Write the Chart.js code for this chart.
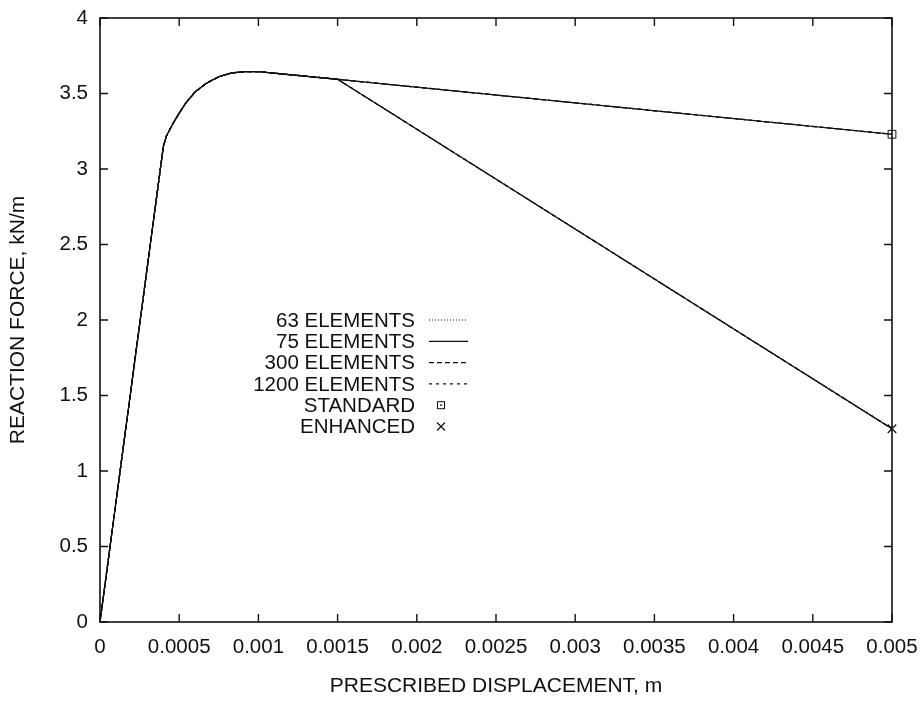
<!DOCTYPE html>
<html>
<head>
<meta charset="utf-8">
<script src="https://cdn.jsdelivr.net/npm/chart.js@4"></script>
<style>
  body { margin: 0; background: #fff; }
  #wrap { width: 922px; height: 701px; }
</style>
</head>
<body>
<div id="wrap"><canvas id="myChart" width="922" height="701"></canvas></div>
<script>
// data
const displacement = [0, 0.0004, 0.00042, 0.00046, 0.0005, 0.00054, 0.0006, 0.00067, 0.00075, 0.00083, 0.00092, 0.001, 0.0015, 0.005];
const standardForce = [0, 3.15, 3.22, 3.30, 3.37, 3.435, 3.51, 3.567, 3.611, 3.636, 3.645, 3.645, 3.594, 3.23];
const enhancedForce = [0, 3.15, 3.22, 3.30, 3.37, 3.435, 3.51, 3.567, 3.611, 3.636, 3.645, 3.645, 3.594, 1.28];
const meshLabels = ["63 ELEMENTS", "75 ELEMENTS", "300 ELEMENTS", "1200 ELEMENTS"];
const markerLabels = ["STANDARD", "ENHANCED"];
const xTicks = [0, 0.0005, 0.001, 0.0015, 0.002, 0.0025, 0.003, 0.0035, 0.004, 0.0045, 0.005];
const yTicks = [0, 0.5, 1, 1.5, 2, 2.5, 3, 3.5, 4];

const INK = "#111";
const FONT = "Liberation Sans, Arial, Helvetica, sans-serif";
const meshDash = [[1, 2], [], [5, 3], [3, 4]];

const toPoints = (ys) => displacement.map((x, i) => ({ x: x, y: ys[i] }));

const datasets = [];
meshLabels.forEach((label, i) => {
    [standardForce, enhancedForce].forEach((ys) => {
        datasets.push({
            label: label,
            data: toPoints(ys),
            borderColor: INK,
            borderWidth: 1.2,
            borderDash: meshDash[i],
            pointRadius: 0,
            tension: 0,
            fill: false
        });
    });
});
// end markers
datasets.push({
    label: markerLabels[0],
    data: [{ x: displacement[displacement.length - 1], y: standardForce[standardForce.length - 1] }],
    showLine: false,
    pointStyle: "rect",
    pointRadius: 5.5,
    borderColor: INK,
    borderWidth: 1,
    backgroundColor: "rgba(0,0,0,0)",
    clip: false
});
datasets.push({
    label: markerLabels[1],
    data: [{ x: displacement[displacement.length - 1], y: enhancedForce[enhancedForce.length - 1] }],
    showLine: false,
    pointStyle: "crossRot",
    pointRadius: 6,
    borderColor: INK,
    borderWidth: 1.2,
    clip: false
});

// box round the plot, with inward ticks on all four sides
const framePlugin = {
    id: "frame",
    afterDatasetsDraw(chart) {
        const { ctx, chartArea: a, scales } = chart;
        ctx.save();
        ctx.strokeStyle = INK;
        ctx.lineWidth = 1.6;
        ctx.strokeRect(a.left, a.top, a.right - a.left, a.bottom - a.top);
        ctx.lineWidth = 1.4;
        ctx.beginPath();
        xTicks.forEach((v) => {
            const px = scales.x.getPixelForValue(v);
            ctx.moveTo(px, a.bottom); ctx.lineTo(px, a.bottom - 8);
            ctx.moveTo(px, a.top); ctx.lineTo(px, a.top + 8);
        });
        yTicks.forEach((v) => {
            const py = scales.y.getPixelForValue(v);
            ctx.moveTo(a.left, py); ctx.lineTo(a.left + 8, py);
            ctx.moveTo(a.right, py); ctx.lineTo(a.right - 8, py);
        });
        ctx.stroke();
        ctx.restore();
    }
};

// gnuplot style key: text right aligned, sample to its right
const keyPlugin = {
    id: "key",
    afterDraw(chart) {
        const ctx = chart.ctx;
        const textRight = 415, sampleL = 429, sampleR = 468, markX = 441;
        const rowTop = 320, rowGap = 21.3;
        ctx.save();
        ctx.font = "20.5px " + FONT;
        ctx.fillStyle = INK;
        ctx.strokeStyle = INK;
        ctx.textAlign = "right";
        ctx.textBaseline = "middle";
        const labels = meshLabels.concat(markerLabels);
        labels.forEach((label, i) => {
            const y = rowTop + i * rowGap;
            ctx.fillText(label, textRight, y + 1);
            if (i < meshLabels.length) {
                ctx.lineWidth = 1.2;
                ctx.setLineDash(meshDash[i]);
                ctx.beginPath();
                ctx.moveTo(sampleL, y); ctx.lineTo(sampleR, y);
                ctx.stroke();
                ctx.setLineDash([]);
            } else if (label === "STANDARD") {
                ctx.lineWidth = 1;
                ctx.strokeRect(markX - 3.5, y - 3.5, 7, 7);
                ctx.fillRect(markX - 0.8, y - 0.8, 1.6, 1.6);
            } else {
                ctx.lineWidth = 1.2;
                ctx.beginPath();
                ctx.moveTo(markX - 4, y - 4); ctx.lineTo(markX + 4, y + 4);
                ctx.moveTo(markX - 4, y + 4); ctx.lineTo(markX + 4, y - 4);
                ctx.stroke();
            }
        });
        ctx.restore();
    }
};

const fmt = (v) => String(parseFloat(Number(v).toFixed(4)));
const noEdgePadding = (scale) => {
    scale.paddingLeft = 0; scale.paddingRight = 0;
    scale.paddingTop = 0; scale.paddingBottom = 0;
};

new Chart(document.getElementById("myChart").getContext("2d"), {
    type: "line",
    data: { datasets: datasets },
    plugins: [framePlugin, keyPlugin],
    options: {
        responsive: false,
        animation: false,
        devicePixelRatio: 1,
        layout: { autoPadding: false, padding: { left: 0, right: 30, top: 18, bottom: 0 } },
        plugins: { legend: { display: false }, tooltip: { enabled: false } },
        scales: {
            x: {
                type: "linear",
                min: 0,
                max: 0.005,
                afterBuildTicks: (scale) => { scale.ticks = xTicks.map((v) => ({ value: v })); },
                afterFit: (scale) => { scale.height = 79; noEdgePadding(scale); },
                grid: { display: false, drawTicks: false },
                border: { display: false },
                ticks: { color: INK, font: { family: FONT, size: 20.5 }, padding: 13, maxRotation: 0, autoSkip: false, callback: fmt },
                title: { display: true, text: "PRESCRIBED DISPLACEMENT, m", color: INK, font: { family: FONT, size: 21 }, padding: { top: 0, bottom: 2 } }
            },
            y: {
                type: "linear",
                min: 0,
                max: 4,
                afterBuildTicks: (scale) => { scale.ticks = yTicks.map((v) => ({ value: v })); },
                afterFit: (scale) => { scale.width = 100; noEdgePadding(scale); },
                grid: { display: false, drawTicks: false },
                border: { display: false },
                ticks: { color: INK, font: { family: FONT, size: 20.5 }, padding: 12, callback: fmt },
                title: { display: true, text: "REACTION FORCE, kN/m", color: INK, font: { family: FONT, size: 21 }, padding: { top: 6, bottom: 0 } }
            }
        }
    }
});
</script>
</body>
</html>
